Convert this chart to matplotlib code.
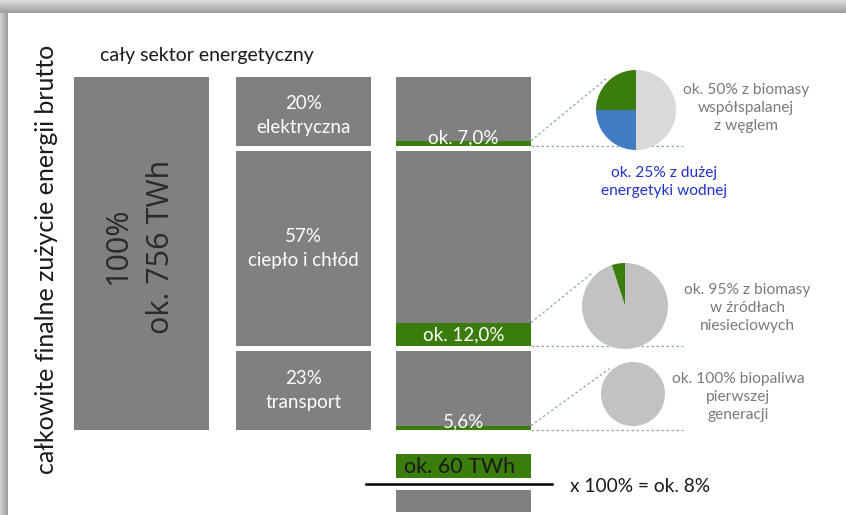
import matplotlib
matplotlib.use("Agg")
import matplotlib.pyplot as plt
import numpy as np

plt.rcParams['font.family'] = ['Lato', 'DejaVu Sans']

# dane
sektory = ["elektryczna", "ciepło i chłód", "transport"]
udzial = [20, 57, 23]                 # % zużycia finalnego brutto
udzial_oze = [7.0, 12.0, 5.6]          # % OZE w danym sektorze
etykiety_oze = ["ok. 7,0%", "ok. 12,0%", "5,6%"]
calosc_twh = 756
oze_twh = 60
wynik = "ok. 8%"

pie_elektr = [25, 25, 50]   # biomasa (zielony), woda (niebieski), reszta
pie_cieplo = [5, 95]
pie_transport = [100]
opisy_pie = ["ok. 50% z biomasy\nwspółspalanej\nz węglem",
             "ok. 95% z biomasy\nw źródłach\nniesieciowych",
             "ok. 100% biopaliwa\npierwszej\ngeneracji"]
opis_woda = "ok. 25% z dużej\nenergetyki wodnej"

SZARY = "#808080"
ZIELONY = "#3a7d0c"
NIEBIESKI = "#3f7cc4"
JASNY = "#d9d9d9"
SZARY_PIE = "#c2c2c2"

W, H = 846, 515
fig = plt.figure(figsize=(W / 100, H / 100), dpi=100, facecolor="white")

# tło z cieniem ramki
bg = fig.add_axes([0, 0, 1, 1])
bg.set_xlim(0, W)
bg.set_ylim(H, 0)
bg.axis("off")
top = np.linspace(0.86, 0.62, 13)[:, None] * np.ones((1, 10))
bg.imshow(np.dstack([top] * 3), extent=(0, W, 13, 0), aspect="auto")
left = np.ones((10, 1)) * np.linspace(0.82, 0.62, 8)[None, :]
bg.imshow(np.dstack([left] * 3), extent=(0, 8, H, 13), aspect="auto")

# główna oś: x w pikselach, y w procentach całości
gap = 1.45
top_px, bot_px = 77, 430
u = (bot_px - top_px) / (100 + 2 * gap)
ax = fig.add_axes([0, 0, 1, 1])
ax.set_xlim(0, W)
ax.set_ylim((H - top_px) / u, -top_px / u)
ax.axis("off")
ax.patch.set_alpha(0)

def py(px):
    return (px - top_px) / u

col_w = 135
x1, x2, x3 = 74, 236, 396
total = sum(udzial) + 2 * gap

# kolumna 1
ax.bar(x1, total, width=col_w, bottom=0, align="edge", color=SZARY)
ax.text(x1 + col_w / 2 - 2, total / 2 - 2, f"100%\nok. {calosc_twh} TWh", rotation=90,
        ha="center", va="center", fontsize=22, color="#2a2a2a",
        family=["Open Sans", "DejaVu Sans"], linespacing=1.55)

# kolumny 2 i 3
bottoms = np.cumsum([0] + udzial[:-1]) + np.arange(3) * gap
for i, (s, b, oze) in enumerate(zip(udzial, bottoms, udzial_oze)):
    ax.bar(x2, s, width=col_w, bottom=b, align="edge", color=SZARY)
    ax.text(x2 + col_w / 2, b + s * 0.5 + (1.2 if i == 0 else 0),
            f"{s}%\n{sektory[i]}", ha="center", va="center", color="white",
            fontsize=13.5, linespacing=1.45)
    ax.bar(x3, s, width=col_w, bottom=b, align="edge", color=SZARY)
    h = s * oze / 100
    ax.bar(x3, h, width=col_w, bottom=b + s - h, align="edge", color=ZIELONY)

ax.text(x3 + col_w / 2, bottoms[0] + udzial[0] + 0.2, etykiety_oze[0], ha="center",
        va="bottom", color="white", fontsize=13.5)
hc = udzial[1] * udzial_oze[1] / 100
ax.text(x3 + col_w / 2, bottoms[1] + udzial[1] - hc / 2, etykiety_oze[1], ha="center",
        va="center", color="white", fontsize=13.5)
ax.text(x3 + col_w / 2, bottoms[2] + udzial[2] + 0.2, etykiety_oze[2], ha="center",
        va="bottom", color="white", fontsize=13.5)

# ułamek na dole
ax.bar(x3, py(478) - py(454), width=col_w, bottom=py(454), align="edge", color=ZIELONY)
ax.text(x3 + 8, py(467), f"ok. {oze_twh} TWh", ha="left", va="center",
        color="#1a1a1a", fontsize=15.5)
ax.plot([366, 552], [py(484), py(484)], color="black", lw=1.8)
ax.bar(x3, py(512) - py(490), width=col_w, bottom=py(490), align="edge", color=SZARY)
ax.text(570, py(486), f"x 100% = {wynik}", ha="left", va="center",
        color="#1a1a1a", fontsize=13.8)

# teksty osi
ax.text(47, py(259), "całkowite finalne zużycie energii brutto", rotation=90,
        ha="center", va="center", fontsize=18, color="#1a1a1a")
ax.text(100, py(56), "cały sektor energetyczny", ha="left", va="center",
        fontsize=14, color="#1a1a1a")

# wykresy kołowe
pies = [
    (pie_elektr, [ZIELONY, NIEBIESKI, JASNY], 636, 110, 40, 746, 108),
    (pie_cieplo, [ZIELONY, SZARY_PIE], 625, 306, 43, 747, 308),
    (pie_transport, [SZARY_PIE], 633, 394, 32, 738, 397),
]
for k, (vals, cols, cx, cy, r, tx, ty) in enumerate(pies):
    pax = fig.add_axes([(cx - r) / W, 1 - (cy + r) / H, 2 * r / W, 2 * r / H])
    pax.pie(vals, colors=cols, startangle=90, counterclock=True,
            wedgeprops=dict(linewidth=0))
    pax.set_xlim(-1, 1)
    pax.set_ylim(-1, 1)
    pax.set_aspect("equal")
    pax.axis("off")
    # linie prowadzące
    b = bottoms[k] + udzial[k]
    h = udzial[k] * udzial_oze[k] / 100
    ang = np.deg2rad(133)
    ex, ey = cx + 1.08 * r * np.cos(ang), cy - 1.08 * r * np.sin(ang)
    ax.plot([x3 + col_w, ex], [b - h, py(ey)], ls=(0, (2, 2)), color="#8aa8a0", lw=0.9)
    ax.plot([x3 + col_w, 683], [b, b], ls=(0, (2, 2)), color="#8aa8a0", lw=0.9)
    ax.text(tx, py(ty), opisy_pie[k], ha="center", va="center",
            color="#7a7a7a", fontsize=11.2, linespacing=1.4)

ax.text(664, py(182), opis_woda, ha="center", va="center", color="#2233cc",
        fontsize=11.2, linespacing=1.4)

fig.savefig("out.png", dpi=100, facecolor="white")
